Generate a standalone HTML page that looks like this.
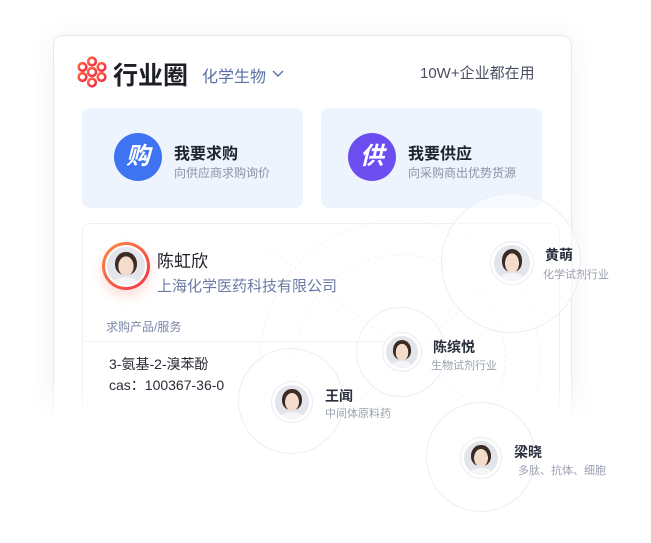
<!DOCTYPE html>
<html><head><meta charset="utf-8">
<style>
*{margin:0;padding:0;box-sizing:border-box}
body{width:651px;height:543px;background:#fff;position:relative;overflow:hidden;font-family:"Liberation Sans","Noto Sans CJK SC",sans-serif}
.abs{position:absolute}
.card{left:53px;top:35px;width:519px;height:400px;border:1px solid #e6e9f0;border-radius:10px;background:#fff;box-shadow:0 4px 30px rgba(40,60,110,0.07)}
.box{top:108px;width:221px;height:100px;background:#eef4fe;border-radius:8px}
.ic{width:48px;height:48px;border-radius:50%;color:#fff;font-size:24px;font-weight:bold;text-align:center;line-height:48px;font-style:italic}
.t1{font-size:16px;font-weight:bold;color:#1f2330}
.t2{font-size:12px;color:#8a93a6}
.inner{left:82px;top:223px;width:478px;height:220px;border:1px solid #eef0f5;border-radius:8px;background:#fff}
.ring{border-radius:50%;border:1px solid #eceef5;background:rgba(255,255,255,0.5)}
.av{border-radius:50%;overflow:hidden;background:#e3e5ea;border:3px solid #fff;box-shadow:0 0 0 1px #e8ebf2;position:absolute}
.av::before{content:"";position:absolute;left:22%;top:12%;width:56%;height:62%;border-radius:50% 50% 45% 45%;background:radial-gradient(ellipse at 50% 62%,#f4dccd 0 48%,#3a2b25 50%)}
.av::after{content:"";position:absolute;left:15%;top:78%;width:70%;height:40%;border-radius:50% 50% 0 0;background:#f5f5f7}
.nm{font-size:14px;font-weight:bold;color:#2a2f3c}
.sb{font-size:11px;color:#9aa0ad}
</style></head><body>
<div class="abs card"></div>
<svg class="abs" style="left:76px;top:56px" width="32" height="32" viewBox="0 0 32 32">
<defs><linearGradient id="g" x1="0" y1="0" x2="1" y2="1"><stop offset="0" stop-color="#ff6a3d"/><stop offset="1" stop-color="#f0284a"/></linearGradient></defs>
<g fill="none" stroke="url(#g)" stroke-width="2.6">
<circle cx="16" cy="5.5" r="3.8"/><circle cx="16" cy="26.5" r="3.8"/><circle cx="6.5" cy="11" r="3.8"/><circle cx="25.5" cy="11" r="3.8"/><circle cx="6.5" cy="21" r="3.8"/><circle cx="25.5" cy="21" r="3.8"/><circle cx="16" cy="16" r="4"/></g></svg>
<div class="abs" style="left:113px;top:56px;font-size:25px;color:#1d1f26;font-weight:600">行业圈</div>
<div class="abs" style="left:202px;top:63px;font-size:16px;color:#5870a3">化学生物</div>
<svg class="abs" style="left:272px;top:70px" width="12" height="8"><polyline points="1,1 6,6 11,1" fill="none" stroke="#5870a3" stroke-width="1.4"/></svg>
<div class="abs" style="left:420px;top:62px;font-size:15px;color:#4a5062">10W+企业都在用</div>
<div class="abs box" style="left:82px"></div>
<div class="abs box" style="left:321px"></div>
<div class="abs ic" style="left:114px;top:133px;background:#3e74f2">购</div>
<div class="abs ic" style="left:348px;top:133px;background:#6c4ef0">供</div>
<div class="abs t1" style="left:174px;top:140px">我要求购</div>
<div class="abs t2" style="left:174px;top:164px">向供应商求购询价</div>
<div class="abs t1" style="left:408px;top:140px">我要供应</div>
<div class="abs t2" style="left:408px;top:164px">向采购商出优势货源</div>
<div class="abs inner"></div>
<svg class="abs" style="left:0;top:0" width="651" height="543">
<g fill="none" stroke="#f2f3f7" stroke-width="1" stroke-dasharray="3 3">
<circle cx="400" cy="360" r="140"/><circle cx="400" cy="360" r="105"/>
<line x1="270" y1="250" x2="560" y2="470"/><line x1="280" y1="470" x2="540" y2="240"/>
</g></svg>
<div class="abs" style="left:0;top:380px;width:651px;height:163px;background:linear-gradient(rgba(255,255,255,0),#fff 25%)"></div>
<div class="abs ring" style="left:441px;top:193px;width:140px;height:140px"></div>
<div class="abs ring" style="left:356px;top:307px;width:90px;height:90px"></div>
<div class="abs ring" style="left:238px;top:348px;width:106px;height:106px"></div>
<div class="abs ring" style="left:426px;top:402px;width:110px;height:110px"></div>
<div class="abs" style="left:102px;top:242px;width:48px;height:48px;border-radius:50%;background:linear-gradient(135deg,#ff8a3d,#f2334b);box-shadow:0 6px 12px rgba(240,80,60,0.2)"></div>
<div class="av" style="left:105px;top:245px;width:42px;height:42px;border-width:2px;box-shadow:none"></div>
<div class="abs" style="left:157px;top:247px;font-size:17px;color:#1d1f26">陈虹欣</div>
<div class="abs" style="left:157px;top:275px;font-size:15px;color:#6a7aa6">上海化学医药科技有限公司</div>
<div class="abs" style="left:106px;top:318px;font-size:12px;color:#7a86a6">求购产品/服务</div>
<div class="abs" style="left:84px;top:341px;width:300px;height:1px;background:#f0f2f6"></div>
<div class="abs" style="left:109px;top:354px;font-size:14px;color:#2a2d36">3-氨基-2-溴苯酚</div>
<div class="abs" style="left:109px;top:375px;font-size:14px;color:#2a2d36">cas：100367-36-0</div>
<div class="av" style="left:491px;top:242px;width:42px;height:42px"></div>
<div class="abs nm" style="left:545px;top:245px">黄萌</div>
<div class="abs sb" style="left:543px;top:266px">化学试剂行业</div>
<div class="av" style="left:383px;top:333px;width:38px;height:38px"></div>
<div class="abs nm" style="left:433px;top:337px">陈缤悦</div>
<div class="abs sb" style="left:431px;top:357px">生物试剂行业</div>
<div class="av" style="left:272px;top:382px;width:40px;height:40px"></div>
<div class="abs nm" style="left:325px;top:386px">王闻</div>
<div class="abs sb" style="left:325px;top:405px">中间体原料药</div>
<div class="av" style="left:461px;top:438px;width:40px;height:40px"></div>
<div class="abs nm" style="left:514px;top:442px">梁晓</div>
<div class="abs sb" style="left:518px;top:462px">多肽、抗体、细胞</div>
</body></html>
